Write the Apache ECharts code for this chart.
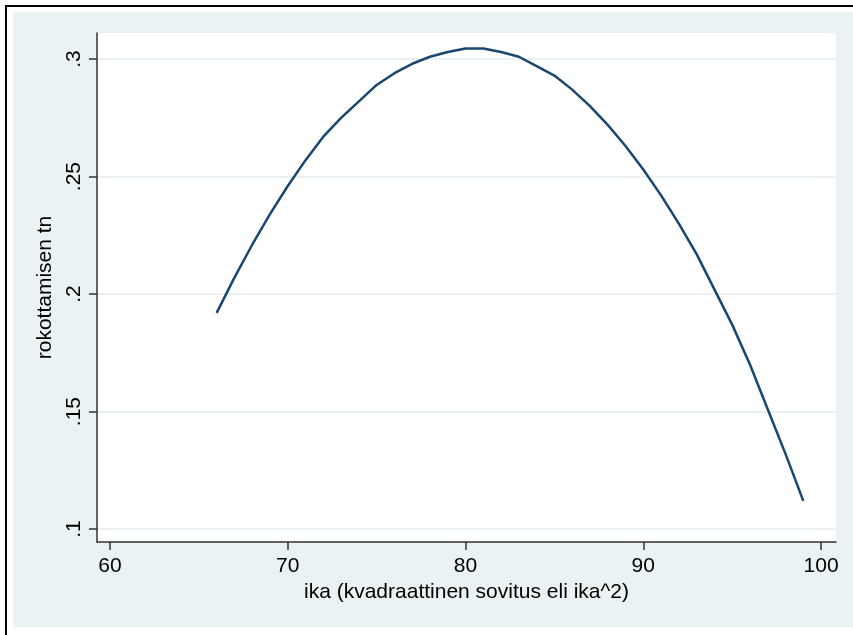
<!DOCTYPE html>
<html>
<head>
<meta charset="utf-8">
<script src="https://cdn.jsdelivr.net/npm/echarts@6/dist/echarts.min.js"></script>
<style>
  html, body { margin: 0; padding: 0; background: #fff; overflow: hidden; }
  #frame {
    position: absolute; left: 5px; top: 5px; width: 900px; height: 700px;
    border-left: 2px solid #000; border-top: 2px solid #000;
  }
  #chart { position: absolute; left: 13px; top: 12px; width: 840px; height: 615px; }
</style>
</head>
<body>
<div id="frame"></div>
<div id="chart"></div>
<script>
// age (ika) and fitted probability (rokottamisen tn)
const ages = [66, 67, 68, 69, 70, 71, 72, 73, 74, 75, 76, 77, 78, 79, 80, 81, 82,
  83, 84, 85, 86, 87, 88, 89, 90, 91, 92, 93, 94, 95, 96, 97, 98, 99];
const probs = [0.192, 0.207, 0.221, 0.234, 0.246, 0.257, 0.267, 0.275, 0.282, 0.289,
  0.294, 0.298, 0.301, 0.303, 0.3045, 0.3045, 0.303, 0.301, 0.297, 0.293, 0.287,
  0.280, 0.272, 0.263, 0.253, 0.242, 0.230, 0.217, 0.202, 0.187, 0.170, 0.151,
  0.132, 0.112];

const xTicks = [60, 70, 80, 90, 100];
const yTicks = [0.1, 0.15, 0.2, 0.25, 0.3];
const yTickLabels = ['.1', '.15', '.2', '.25', '.3'];

const font = 'Liberation Sans, Arial, sans-serif';
const chart = echarts.init(document.getElementById('chart'));

chart.setOption({
  backgroundColor: '#EAF2F3',
  animation: false,
  grid: {
    left: 84, top: 21, width: 739, height: 509,
    show: true, backgroundColor: '#fff', borderWidth: 0
  },
  xAxis: {
    type: 'value',
    min: 59.27,
    max: 100.84,
    name: 'ika (kvadraattinen sovitus eli ika^2)',
    nameLocation: 'middle',
    nameGap: 36,
    nameTextStyle: { color: '#000', fontSize: 21, fontFamily: font },
    axisLine: { show: true, onZero: false, lineStyle: { color: '#333', width: 1.5 } },
    axisTick: { show: true, length: 8, customValues: xTicks, lineStyle: { color: '#333', width: 1.5 } },
    axisLabel: { customValues: xTicks, margin: 14, color: '#000', fontSize: 21, fontFamily: font },
    splitLine: { show: false }
  },
  yAxis: {
    type: 'value',
    min: 0.0945,
    max: 0.3111,
    name: 'rokottamisen tn',
    nameLocation: 'middle',
    nameRotate: 90,
    nameGap: 40,
    nameTextStyle: { color: '#000', fontSize: 21, fontFamily: font },
    axisLine: { show: true, onZero: false, lineStyle: { color: '#333', width: 1.5 } },
    axisTick: { show: true, length: 8, customValues: yTicks, lineStyle: { color: '#333', width: 1.5 } },
    axisLabel: {
      customValues: yTicks,
      rotate: 90,
      margin: 12,
      color: '#000', fontSize: 21, fontFamily: font,
      formatter: (v) => yTickLabels[yTicks.findIndex((t) => Math.abs(t - v) < 1e-9)] ?? ''
    },
    splitLine: { show: true, lineStyle: { color: '#EAF2F3', width: 2 } }
  },
  series: [
    {
      type: 'line',
      data: ages.map((a, i) => [a, probs[i]]),
      showSymbol: false,
      smooth: false,
      lineStyle: { color: '#1A476F', width: 2.5 }
    }
  ]
});
</script>
</body>
</html>
